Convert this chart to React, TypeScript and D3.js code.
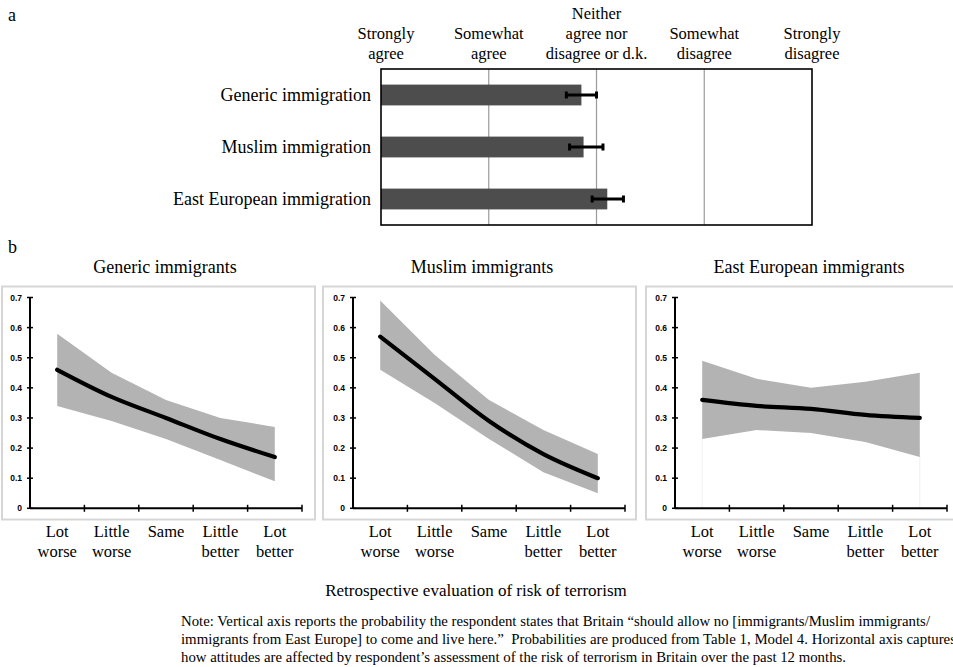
import React from 'react'
import * as d3 from 'd3'

// panel a: agreement scale
const ratingLabels = [
  ['Strongly', 'agree'],
  ['Somewhat', 'agree'],
  ['Neither', 'agree nor', 'disagree or d.k.'],
  ['Somewhat', 'disagree'],
  ['Strongly', 'disagree'],
]
const barCategories = ['Generic immigration', 'Muslim immigration', 'East European immigration']
const barMeans = [2.86, 2.88, 3.1]
const barLow = [2.72, 2.75, 2.96]
const barHigh = [3.0, 3.06, 3.25]

// panel b: predicted probabilities
const riskLevels = [['Lot', 'worse'], ['Little', 'worse'], ['Same'], ['Little', 'better'], ['Lot', 'better']]
const panelTitles = ['Generic immigrants', 'Muslim immigrants', 'East European immigrants']
const genericMean = [0.46, 0.37, 0.3, 0.23, 0.17]
const genericUpper = [0.58, 0.45, 0.36, 0.3, 0.27]
const genericLower = [0.34, 0.29, 0.23, 0.16, 0.09]
const muslimMean = [0.57, 0.43, 0.29, 0.18, 0.1]
const muslimUpper = [0.69, 0.51, 0.36, 0.26, 0.18]
const muslimLower = [0.46, 0.35, 0.23, 0.12, 0.05]
const eastMean = [0.36, 0.34, 0.33, 0.31, 0.3]
const eastUpper = [0.49, 0.43, 0.4, 0.42, 0.45]
const eastLower = [0.23, 0.26, 0.25, 0.22, 0.17]
const yTicks = [0, 0.1, 0.2, 0.3, 0.4, 0.5, 0.6, 0.7]

const noteLines = [
  'Note: Vertical axis reports the probability the respondent states that Britain \u201cshould allow no [immigrants/Muslim immigrants/',
  'immigrants from East Europe] to come and live here.\u201d\u00a0 Probabilities are produced from Table 1, Model 4. Horizontal axis captures',
  'how attitudes are affected by respondent\u2019s assessment of the risk of terrorism in Britain over the past 12 months.',
]

const serif = '"Liberation Serif", "Times New Roman", serif'
const sans = '"Liberation Sans", Arial, sans-serif'

const series = [
  { mean: genericMean, upper: genericUpper, lower: genericLower },
  { mean: muslimMean, upper: muslimUpper, lower: muslimLower },
  { mean: eastMean, upper: eastUpper, lower: eastLower },
]

function TopPanel() {
  const x = d3.scaleLinear().domain([1, 5]).range([381, 812])
  const y = d3.scaleBand().domain(barCategories).range([69, 225]).paddingInner(0.6).paddingOuter(0.3)
  const bh = y.bandwidth()
  return (
    <g>
      <text x={8} y={21} fontFamily={serif} fontSize={18}>a</text>
      {ratingLabels.map((lines, i) => (
        <text key={i} x={x(i + 1) + (i === 0 ? 5 : 0)} textAnchor="middle" fontFamily={serif} fontSize={16.5}>
          {lines.map((l, j) => (
            <tspan key={j} x={x(i + 1) + (i === 0 ? 5 : 0)} y={59 - (lines.length - 1 - j) * 20}>{l}</tspan>
          ))}
        </text>
      ))}
      {[2, 3, 4].map(v => (
        <line key={v} x1={x(v)} x2={x(v)} y1={69} y2={225} stroke="#9a9a9a" strokeWidth={1.2} />
      ))}
      {barCategories.map((c, i) => {
        const yc = y(c)! + bh / 2
        return (
          <g key={c}>
            <rect x={x(1)} y={y(c)} width={x(barMeans[i]) - x(1)} height={bh} fill="#4d4d4d" />
            <line x1={x(barLow[i])} x2={x(barHigh[i])} y1={yc} y2={yc} stroke="#000" strokeWidth={3} />
            <line x1={x(barLow[i])} x2={x(barLow[i])} y1={yc - 3.5} y2={yc + 3.5} stroke="#000" strokeWidth={3} />
            <line x1={x(barHigh[i])} x2={x(barHigh[i])} y1={yc - 3.5} y2={yc + 3.5} stroke="#000" strokeWidth={3} />
            <text x={371} y={yc + 6} textAnchor="end" fontFamily={serif} fontSize={18}>{c}</text>
          </g>
        )
      })}
      <rect x={381} y={69} width={431} height={156} fill="none" stroke="#000" strokeWidth={1.6} />
    </g>
  )
}

const boxes = [[2, 315], [323, 636], [646, 956]]
const plotLeft = [30, 353, 675]
const plotWidth = 272

function LinePanel({ idx }: { idx: number }) {
  const s = series[idx]
  const left = plotLeft[idx]
  const cats = riskLevels.map((_, i) => String(i))
  const band = d3.scaleBand().domain(cats).range([left, left + plotWidth])
  const x = (i: number) => band(String(i))! + band.bandwidth() / 2
  const y = d3.scaleLinear().domain([0, 0.7]).range([508.3, 297.5])
  const area = d3.area<number>()
    .x((_, i) => x(i))
    .y0((_, i) => y(s.lower[i]))
    .y1(d => y(d))
  const line = d3.line<number>()
    .x((_, i) => x(i))
    .y(d => y(d))
    .curve(d3.curveCatmullRom.alpha(0.5))
  const [bx0, bx1] = boxes[idx]
  const edges = cats.map(c => band(c)!).concat([left + plotWidth]).slice(1)
  const last = s.lower.length - 1
  return (
    <g>
      <rect x={bx0} y={286.5} width={bx1 - bx0} height={233} fill="none" stroke="#d6d6d6" strokeWidth={2} />
      <text x={[165, 482, 809][idx]} y={273} textAnchor="middle" fontFamily={serif} fontSize={18}>{panelTitles[idx]}</text>
      {idx === 2 && [0, last].map(i => (
        <line key={i} x1={x(i)} x2={x(i)} y1={y(s.lower[i])} y2={y(0)} stroke="#f0f0f0" strokeWidth={1} />
      ))}
      <path d={area(s.upper)!} fill="#b3b3b3" />
      <path d={line(s.mean)!} fill="none" stroke="#000" strokeWidth={4.2} strokeLinecap="round" />
      <line x1={left} x2={left} y1={y(0)} y2={y(0.7)} stroke="#000" strokeWidth={2} />
      <line x1={left} x2={left + plotWidth} y1={y(0)} y2={y(0)} stroke="#000" strokeWidth={2} />
      {yTicks.map(t => (
        <g key={t}>
          <line x1={left - 3} x2={left + 3} y1={y(t)} y2={y(t)} stroke="#000" strokeWidth={1.5} />
          <text x={left - 8} y={y(t) + 3} textAnchor="end" fontFamily={sans} fontWeight="bold" fontSize={8.5}>{String(t)}</text>
        </g>
      ))}
      {edges.map((e, i) => (
        <line key={i} x1={e} x2={e} y1={y(0) - 3.5} y2={y(0) + 3.5} stroke="#000" strokeWidth={1.5} />
      ))}
      {riskLevels.map((lines, i) => (
        <text key={i} textAnchor="middle" fontFamily={serif} fontSize={16.5}>
          {lines.map((l, j) => (
            <tspan key={j} x={x(i)} y={537 + j * 20}>{l}</tspan>
          ))}
        </text>
      ))}
    </g>
  )
}

export default function App() {
  return (
    <svg width={953} height={667} style={{ position: 'absolute', left: 0, top: 0, background: '#fff' }}>
      <TopPanel />
      <text x={8} y={253} fontFamily={serif} fontSize={18}>b</text>
      {[0, 1, 2].map(i => <LinePanel key={i} idx={i} />)}
      <text x={476} y={596} textAnchor="middle" fontFamily={serif} fontSize={17}>
        Retrospective evaluation of risk of terrorism
      </text>
      {noteLines.map((l, i) => (
        <text key={i} x={181} y={626 + i * 18} fontFamily={serif} fontSize={14}
          textLength={[749, 775, 665][i]} lengthAdjust="spacingAndGlyphs">{l}</text>
      ))}
    </svg>
  )
}
